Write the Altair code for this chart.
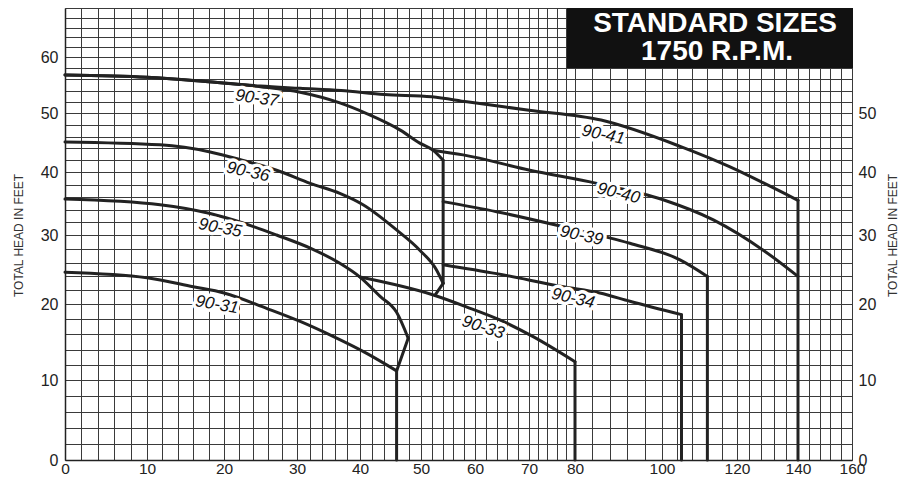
import altair as alt
import pandas as pd

# ---- nonlinear axes of the printed chart (tick value -> plot pixel) ----
x_ticks = [0, 10, 20, 30, 40, 50, 60, 70, 80, 100, 120, 140, 160]
x_px = [0, 82, 159, 232, 295, 356, 410, 464, 510, 597, 672, 733, 787]
y_ticks = [0, 10, 20, 30, 40, 50, 60, 70]
y_px = [452, 372, 296, 227, 164, 105, 49, 0]
y_left_labels = [0, 10, 20, 30, 40, 50, 60]
y_right_labels = [0, 10, 20, 30, 40, 50]

x_grid = list(range(0, 81, 2)) + list(range(84, 161, 4))
y_grid = list(range(0, 71, 2))

# ---- pump curves (capacity vs total head in feet) ----
c41_x = [0, 10, 18, 25, 30.5, 37, 44, 52, 58.5, 70, 86, 105, 118, 128.5, 140]
c41_y = [56.8, 56.4, 55.6, 54.8, 54.4, 54.0, 53.3, 52.9, 52.0, 50.5, 48.8, 44.3, 40.9, 38.3, 35.5]
c37_x = [0, 10, 18, 25, 30.5, 36.8, 41.1, 46.6, 49.8, 52.2, 54.1]
c37_y = [56.8, 56.4, 55.6, 54.7, 53.7, 51.8, 49.9, 47.1, 44.9, 43.7, 42.0]
c36_x = [0, 11.7, 18.2, 22.5, 27.2, 32.1, 36.8, 40.5, 46.0, 49.8, 52.9, 54.1]
c36_y = [45.1, 44.6, 43.4, 42.0, 40.3, 38.2, 36.6, 34.8, 30.8, 27.8, 24.9, 23.0]
c35_x = [0, 11.7, 18.2, 22.6, 27.2, 32.1, 36.8, 40.0, 43.3, 46.0, 47.9]
c35_y = [35.7, 34.8, 33.4, 31.9, 30.0, 28.1, 25.9, 23.9, 21.1, 18.9, 15.5]
c31_x = [0, 10, 16.0, 20, 25.9, 30.5, 35.8, 41.1, 46.0]
c31_y = [24.6, 23.8, 22.5, 21.6, 19.4, 17.7, 15.7, 13.5, 11.2]
c33_x = [40.0, 52.3, 58.5, 64.6, 70.9, 80]
c33_y = [23.9, 21.3, 19.6, 17.9, 15.7, 12.4]
c34_x = [54.1, 64.0, 77.5, 85.7, 92.6, 105.2]
c34_y = [25.7, 24.4, 22.5, 21.6, 20.4, 18.6]
c39_x = [54.1, 64.0, 77.5, 92.6, 104.8, 112.1]
c39_y = [35.3, 33.7, 31.3, 28.8, 26.4, 24.0]
c40_x = [52.2, 57.8, 70.2, 85.0, 100.3, 113.7, 128.6, 140]
c40_y = [43.7, 42.9, 40.3, 38.2, 35.6, 32.4, 27.8, 24.0]

# ---- cut-off (end of curve) segments ----
k41_x = [140, 140]
k41_y = [35.5, 0]
k37_x = [54.1, 54.1]
k37_y = [42.0, 23.0]
k36_x = [54.1, 52.6]
k36_y = [23.0, 21.3]
k35_x = [47.9, 46.0, 46.0]
k35_y = [15.5, 11.2, 0]
k33_x = [80, 80]
k33_y = [12.4, 0]
k34_x = [105.2, 105.2]
k34_y = [18.6, 0]
k39_x = [112.1, 112.1]
k39_y = [24.0, 0]

# ---- curve labels ----
lab_text = ["90-37", "90-36", "90-35", "90-31", "90-33", "90-34", "90-39", "90-40", "90-41"]
lab_x = [24.5, 23.3, 19.5, 19.1, 61.5, 79.6, 81.5, 90.0, 86.5]
lab_y = [52.6, 40.0, 31.1, 19.9, 16.9, 20.8, 29.9, 36.6, 46.3]
lab_ang = [8, 12, 11, 10, 18, 13, 12, 14, 12]


def rows(name, xs, ys):
    return [{"s": name, "i": i, "x": a, "y": b} for i, (a, b) in enumerate(zip(xs, ys))]


curve_df = pd.DataFrame(
    rows("90-41", c41_x, c41_y) + rows("90-37", c37_x, c37_y) + rows("90-36", c36_x, c36_y)
    + rows("90-35", c35_x, c35_y) + rows("90-31", c31_x, c31_y) + rows("90-33", c33_x, c33_y)
    + rows("90-34", c34_x, c34_y) + rows("90-39", c39_x, c39_y) + rows("90-40", c40_x, c40_y)
)
cut_df = pd.DataFrame(
    rows("k41", k41_x, k41_y) + rows("k37", k37_x, k37_y) + rows("k36", k36_x, k36_y)
    + rows("k35", k35_x, k35_y) + rows("k33", k33_x, k33_y) + rows("k34", k34_x, k34_y)
    + rows("k39", k39_x, k39_y)
)
lab_df = pd.DataFrame({"t": lab_text, "x": lab_x, "y": lab_y, "a": lab_ang})

FONT = "Liberation Sans"
INK = "#222222"
GRID = "#3a3a3a"

x_scale = alt.Scale(type="linear", domain=x_ticks, range=x_px, nice=False, zero=False)
y_scale = alt.Scale(type="linear", domain=y_ticks, range=y_px, nice=False, zero=False)

x_label_expr = "indexof(%s, datum.value) >= 0 ? datum.label : ''" % str(x_ticks)
yl_expr = "indexof(%s, datum.value) >= 0 ? datum.label : ''" % str(y_left_labels)
yr_expr = "indexof(%s, datum.value) >= 0 ? datum.label : ''" % str(y_right_labels)

x_axis = alt.Axis(
    values=x_grid, grid=True, gridColor=GRID, gridWidth=1, gridOpacity=1,
    ticks=False, domain=True, domainColor=INK, domainWidth=1.5,
    labelExpr=x_label_expr, labelFont=FONT, labelFontSize=15.5, labelColor=INK,
    labelPadding=1, labelFlush=False, labelOverlap=False, title=None,
)
y_left_axis = alt.Axis(
    values=y_grid, grid=True, gridColor=GRID, gridWidth=1, gridOpacity=1,
    ticks=False, domain=True, domainColor=INK, domainWidth=1.5, orient="left",
    labelExpr=yl_expr, labelFont=FONT, labelFontSize=16, labelColor=INK,
    labelPadding=7, labelOverlap=False, labelFlush=False,
    title="TOTAL HEAD IN FEET", titleFont=FONT, titleFontSize=12, titleFontWeight="normal",
    titleColor="#333333", titleAngle=270, titleX=-47, titleY=227,
    titleAlign="center", titleBaseline="middle",
)
y_right_axis = alt.Axis(
    values=y_grid, grid=False, ticks=False, domain=False, orient="right",
    labelExpr=yr_expr, labelFont=FONT, labelFontSize=16, labelColor=INK,
    labelPadding=6, labelOverlap=False, labelFlush=False,
    title="TOTAL HEAD IN FEET", titleFont=FONT, titleFontSize=12, titleFontWeight="normal",
    titleColor="#333333", titleAngle=270, titleX=40, titleY=227,
    titleAlign="center", titleBaseline="middle",
)

X = alt.X("x:Q", scale=x_scale, axis=x_axis)

curves = alt.Chart(curve_df).mark_line(
    interpolate="monotone", color=INK, strokeWidth=3, strokeCap="round", strokeJoin="round"
).encode(
    x=X, y=alt.Y("y:Q", scale=y_scale, axis=y_left_axis), detail="s:N", order="i:Q"
)

cuts = alt.Chart(cut_df).mark_line(
    interpolate="linear", color=INK, strokeWidth=3, strokeCap="round", strokeJoin="round"
).encode(
    x=X, y=alt.Y("y:Q", scale=y_scale, axis=y_right_axis), detail="s:N", order="i:Q"
)

halo = alt.Chart(lab_df).mark_text(
    font=FONT, fontSize=17, fontStyle="italic", stroke="white", strokeWidth=7,
    strokeJoin="round", color="white", align="center", baseline="middle",
).encode(
    x=X, y=alt.Y("y:Q", scale=y_scale, axis=None), text="t:N",
    angle=alt.Angle("a:Q", scale=None),
)

labels = alt.Chart(lab_df).mark_text(
    font=FONT, fontSize=17, fontStyle="italic", color="#111111",
    align="center", baseline="middle",
).encode(
    x=X, y=alt.Y("y:Q", scale=y_scale, axis=None), text="t:N",
    angle=alt.Angle("a:Q", scale=None),
)

one = pd.DataFrame({"k": [1]})
box = alt.Chart(one).mark_rect(color="#111111").encode(
    x=alt.value(502), x2=alt.value(788), y=alt.value(0), y2=alt.value(60)
)
title1 = alt.Chart(one).mark_text(
    text="STANDARD SIZES", font=FONT, fontSize=28, fontWeight="bold", color="white",
    align="center", baseline="middle",
).encode(x=alt.value(650), y=alt.value(16))
title2 = alt.Chart(one).mark_text(
    text="1750 R.P.M.", font=FONT, fontSize=28, fontWeight="bold", color="white",
    align="center", baseline="middle",
).encode(x=alt.value(652), y=alt.value(44))

chart = (
    alt.layer(curves, cuts, halo, labels, box, title1, title2)
    .resolve_scale(y="independent")
    .properties(
        width=787, height=452, autosize="none",
        padding={"left": 57, "top": 0, "right": 46, "bottom": 17},
        background="white",
    )
    .configure_view(strokeWidth=0)
)

chart.save("out.html", embed_options={"renderer": "svg", "actions": False})
